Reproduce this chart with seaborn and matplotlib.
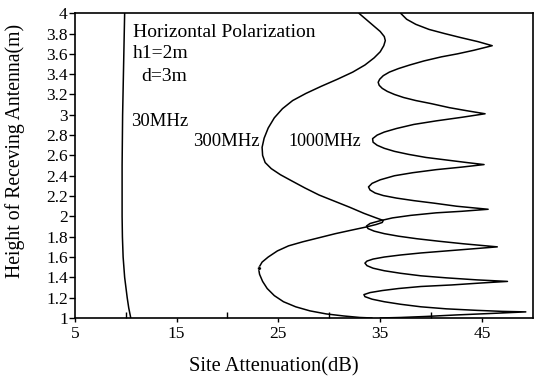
import numpy as np
import pandas as pd
import matplotlib
matplotlib.use("Agg")
import matplotlib.pyplot as plt
import seaborn as sns
from matplotlib.ticker import FixedLocator

# ---- data ----
h_30 = [4.0, 3.5, 3.0, 2.5, 2.0, 1.8, 1.6, 1.4, 1.2, 1.1, 1.0]
a_30 = [9.9, 9.8, 9.7, 9.65, 9.65, 9.68, 9.75, 9.9, 10.15, 10.3, 10.5]

a_300 = [32.9, 33.6, 34.3, 35.0, 35.4, 35.5, 35.35, 35.0, 34.4, 33.5, 32.3, 30.8, 29.2,
         27.7, 26.4, 25.4, 24.6, 24.0, 23.6, 23.4, 23.45, 23.7, 24.3, 25.2, 26.3, 27.6,
         29.0, 30.5, 32.0, 33.4, 34.6, 35.3, 35.2, 34.6, 33.6, 32.2, 30.6, 29.0, 27.4,
         26.0, 24.9, 24.0, 23.4, 23.05, 23.15, 23.45, 23.9, 24.6, 25.5, 26.7, 28.1, 29.7,
         31.4, 33.0, 34.2]
h_300 = [4.0, 3.94, 3.88, 3.82, 3.77, 3.73, 3.68, 3.62, 3.56, 3.49, 3.42, 3.35, 3.28,
         3.21, 3.14, 3.06, 2.97, 2.87, 2.77, 2.68, 2.60, 2.53, 2.47, 2.41, 2.35, 2.28,
         2.21, 2.15, 2.09, 2.03, 1.985, 1.96, 1.94, 1.92, 1.895, 1.865, 1.83, 1.79, 1.75,
         1.71, 1.66, 1.60, 1.55, 1.49, 1.43, 1.36, 1.29, 1.22, 1.16, 1.11, 1.07, 1.04,
         1.02, 1.005, 1.0]

a_1000 = [37.0, 37.6, 38.5, 39.8, 41.3, 42.9, 44.6, 46.0,
          44.2, 42.6, 41.0, 39.3, 37.9, 36.8, 35.9, 35.3, 34.95, 34.8, 34.9, 35.2, 35.7,
          36.4, 37.3, 38.5, 40.0, 41.8, 43.5, 45.3,
          43.0, 40.5, 38.3, 36.6, 35.4, 34.7, 34.25, 34.3, 34.7, 35.4, 36.4, 37.8, 39.5,
          41.5, 43.5, 45.2,
          43.0, 40.5, 38.2, 36.4, 35.0, 34.2, 33.85, 34.0, 34.5, 35.3, 36.6, 38.3, 40.3,
          42.5, 45.6,
          43.0, 40.5, 38.0, 36.2, 34.9, 34.0, 33.65, 33.8, 34.4, 35.4, 36.8, 38.6, 40.8,
          43.2, 46.5,
          44.0, 41.5, 39.0, 37.0, 35.4, 34.3, 33.7, 33.5, 33.7, 34.3, 35.4, 37.0, 39.0,
          41.5, 44.5, 47.5,
          45.0, 42.0, 39.0, 36.8, 35.2, 34.0, 33.4, 33.5, 34.2, 35.4, 37.0, 39.0, 41.5,
          44.5, 47.0, 49.3,
          46.0, 42.5, 39.5, 37.0, 35.0]
h_1000 = [4.0, 3.94, 3.89, 3.84, 3.80, 3.76, 3.72, 3.68,
          3.635, 3.60, 3.57, 3.53, 3.49, 3.455, 3.42, 3.385, 3.35, 3.32, 3.29, 3.26, 3.23,
          3.20, 3.17, 3.14, 3.11, 3.07, 3.04, 3.01,
          2.975, 2.94, 2.905, 2.865, 2.83, 2.80, 2.765, 2.73, 2.70, 2.67, 2.64, 2.61, 2.58,
          2.555, 2.53, 2.51,
          2.485, 2.46, 2.43, 2.40, 2.36, 2.325, 2.29, 2.26, 2.23, 2.205, 2.18, 2.155, 2.13,
          2.10, 2.07,
          2.05, 2.035, 2.01, 1.985, 1.955, 1.93, 1.905, 1.88, 1.855, 1.83, 1.805, 1.78, 1.755,
          1.73, 1.70,
          1.68, 1.66, 1.64, 1.62, 1.60, 1.58, 1.56, 1.54, 1.515, 1.49, 1.465, 1.44, 1.415,
          1.395, 1.375, 1.36,
          1.345, 1.325, 1.31, 1.29, 1.27, 1.25, 1.23, 1.21, 1.185, 1.16, 1.135, 1.11, 1.09,
          1.075, 1.065, 1.06,
          1.045, 1.03, 1.015, 1.005, 1.0]

dot_a = [23.05]
dot_h = [1.49]

x_ticks = [5, 15, 25, 35, 45]
x_minor = [10, 20, 30, 40]
y_ticks = [1.0, 1.2, 1.4, 1.6, 1.8, 2.0, 2.2, 2.4, 2.6, 2.8, 3.0, 3.2, 3.4, 3.6, 3.8, 4.0]

# ---- styling ----
sns.set_style("ticks")
plt.rcParams["font.family"] = ["Liberation Serif", "DejaVu Serif"]

fig = plt.figure(figsize=(5.34, 3.81), dpi=100)
ax = fig.add_axes([0.14, 0.1654, 0.858, 0.800])

lw = 1.1
sns.lineplot(x=a_30, y=h_30, sort=False, estimator=None, color="black", lw=lw, ax=ax)
sns.lineplot(x=a_300, y=h_300, sort=False, estimator=None, color="black", lw=lw, ax=ax)
sns.lineplot(x=a_1000, y=h_1000, sort=False, estimator=None, color="black", lw=lw, ax=ax)
sns.scatterplot(x=dot_a, y=dot_h, color="black", s=6, ax=ax, zorder=5)

ax.set_xlim(5, 50)
ax.set_ylim(1, 4)
ax.xaxis.set_major_locator(FixedLocator(x_ticks))
ax.xaxis.set_minor_locator(FixedLocator(x_minor))
ax.set_xticklabels([str(v) for v in x_ticks])
ax.yaxis.set_major_locator(FixedLocator(y_ticks))
ax.set_yticklabels([f"{v:g}" for v in y_ticks])

ax.tick_params(axis="x", which="major", direction="out", length=3, width=1, pad=3,
               labelsize=12.5, color="black", labelcolor="black")
ax.tick_params(axis="x", which="minor", direction="in", length=4, width=1, color="black")
ax.tick_params(axis="y", which="major", direction="out", length=4, width=1, pad=1,
               labelsize=12.5, color="black", labelcolor="black")

for s in ax.spines.values():
    s.set_visible(True)
    s.set_color("black")
    s.set_linewidth(1.2)

ax.set_xlabel("Site Attenuation(dB)", fontsize=14.8, color="black")
ax.xaxis.set_label_coords(0.434, -0.16)
ax.xaxis.label.set_va("center")
ax.set_ylabel("Height of Receving Antenna(m)", fontsize=14.2, color="black")
ax.yaxis.set_label_coords(-0.131, 0.548)
ax.yaxis.label.set_va("center")

tk = dict(color="black", va="center", ha="left")
ax.text(10.7, 3.81, "Horizontal Polarization", fontsize=14, **tk)
ax.text(10.7, 3.60, "h1=2m", fontsize=14, **tk)
ax.text(11.5, 3.38, "d=3m", fontsize=14, **tk)
ax.text(10.5, 2.93, "30MHz", fontsize=13.5, **tk)
ax.text(16.6, 2.74, "300MHz", fontsize=13.5, **tk)
ax.text(26.0, 2.74, "1000MHz", fontsize=13, **tk)

fig.savefig("out.png", dpi=100)
